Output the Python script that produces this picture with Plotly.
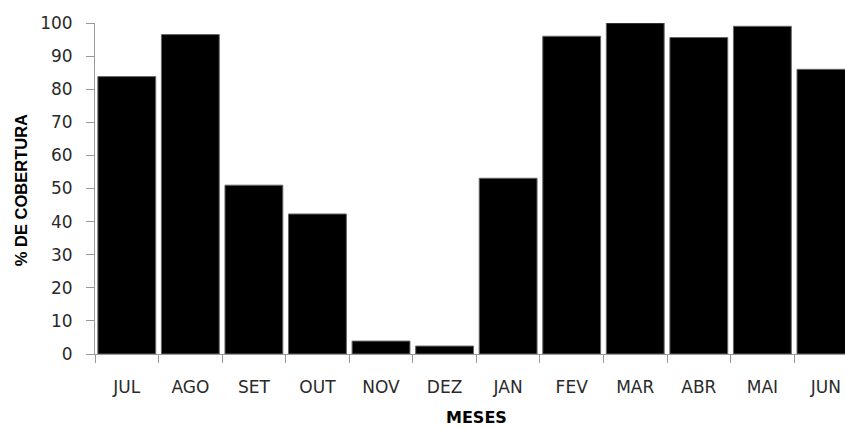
import plotly.graph_objects as go

months = ["JUL", "AGO", "SET", "OUT", "NOV", "DEZ", "JAN", "FEV", "MAR", "ABR", "MAI", "JUN"]
cobertura = [83.8, 96.5, 51.0, 42.3, 3.9, 2.4, 53.1, 96.0, 100.0, 95.6, 99.0, 86.0]
y_ticks = [0, 10, 20, 30, 40, 50, 60, 70, 80, 90, 100]

fig = go.Figure(
    go.Bar(
        x=months,
        y=cobertura,
        marker=dict(color="#000000", line=dict(color="#666666", width=1)),
    )
)

fig.update_layout(
    width=845,
    height=429,
    margin=dict(l=95, r=0, t=23, b=75),
    paper_bgcolor="white",
    plot_bgcolor="white",
    bargap=0.09,
    showlegend=False,
    font=dict(family="DejaVu Sans", color="#222222"),
    annotations=[
        dict(
            text="<b>% DE COBERTURA</b>",
            xref="paper", yref="paper",
            x=(21 - 95) / 750, y=0.495,
            xanchor="center", yanchor="middle",
            textangle=-90, showarrow=False,
            font=dict(size=16.5, family="Liberation Sans", color="#000000"),
        ),
        dict(
            text="<b>MESES</b>",
            xref="paper", yref="paper",
            x=(476 - 95) / 750, y=(354 - 418) / 331.3,
            xanchor="center", yanchor="middle",
            showarrow=False,
            font=dict(size=16, family="DejaVu Sans", color="#000000"),
        ),
    ],
)

fig.update_xaxes(
    type="category",
    range=[-0.5, 11.3],
    automargin=False,
    showline=True,
    linecolor="#999999",
    linewidth=1,
    ticks="outside",
    tickson="boundaries",
    ticklen=8,
    tickcolor="#999999",
    tickfont=dict(size=17, family="DejaVu Sans", color="#2a2a2a"),
    ticklabelstandoff=18,
    showgrid=False,
)

fig.update_yaxes(
    range=[0, 100],
    tickvals=y_ticks,
    automargin=False,
    showline=True,
    linecolor="#999999",
    linewidth=1,
    ticks="outside",
    ticklen=8,
    tickcolor="#999999",
    tickfont=dict(size=17, family="DejaVu Sans", color="#2a2a2a"),
    ticklabelstandoff=10,
    showgrid=False,
    zeroline=False,
)

fig.write_html(
    "out.html",
    config={"displayModeBar": False},
    post_script="document.body.style.margin='0';document.body.style.overflow='hidden';",
)
